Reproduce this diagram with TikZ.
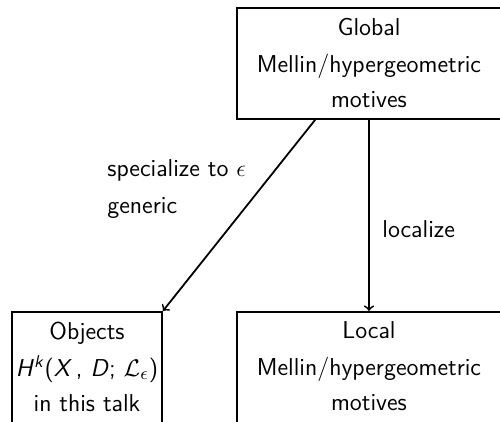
\documentclass[tikz,border=0pt]{standalone}
\usepackage{amsmath}
\usepackage{xcolor}
\usepackage{tikz}
\renewcommand{\familydefault}{\sfdefault}

\tikzset{
    box/.style={draw, line width=0.9pt, align=center, inner sep=0pt,
        font=\fontsize{12.2}{17.5}\selectfont},
    edgetext/.style={align=left, inner sep=0pt, anchor=north west,
        font=\fontsize{12.2}{17.5}\selectfont},
    arrow/.style={->, line width=0.9pt}
}

\begin{document}
\begin{tikzpicture}[x=0.5pt, y=-0.5pt]
    % Frame of the page
    \useasboundingbox (0,0) rectangle (500,422);
    \clip (0,0) rectangle (500,422);

    % Top box
    \node[box, minimum width=132pt, minimum height=55.5pt] (global) at (369,63.5)
        {Global\\[1pt] Mellin/hypergeometric\\ motives};

    % Bottom boxes, hung from their top edge
    \node[box, anchor=north, minimum width=75pt, inner ysep=5pt, text depth=4pt] (objects) at (87,311)
        {Objects\\[1pt] \textit{H}\textsuperscript{\textit{k}}(\textit{X}\,, \textit{D}; $\mathcal{L}_\epsilon$)\\ in this talk};
    \node[box, anchor=north, minimum width=132pt, inner ysep=5pt, text depth=4pt] (local) at (369,311)
        {Local\\[1pt] Mellin/hypergeometric\\ motives};

    % Arrows
    \draw[arrow] ([xshift=39.5pt]global.south west) -- (objects.north east);
    \draw[arrow] (global.south) -- (local.north);

    % Labels
    \node[edgetext] (spec) at (107,159) {specialize to $\epsilon$\\[1pt] generic};
    \node[edgetext] (loc) at (382,220) {localize};
\end{tikzpicture}
\end{document}
